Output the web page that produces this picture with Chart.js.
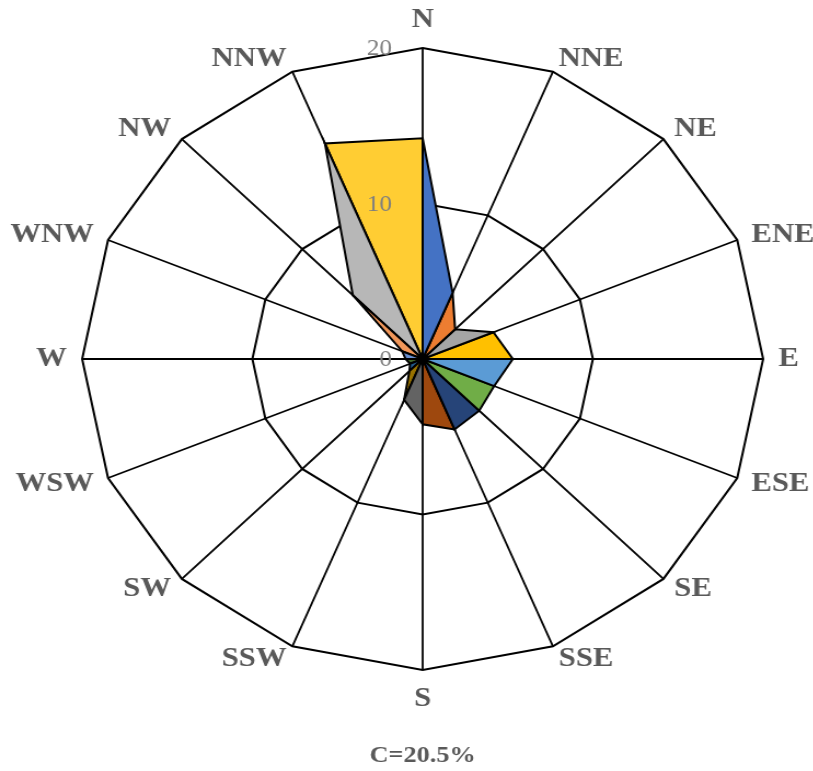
<!DOCTYPE html>
<html>
<head>
<meta charset="utf-8">
<script src="https://cdn.jsdelivr.net/npm/chart.js@4"></script>
<style>
  html, body { margin: 0; padding: 0; background: #fff; overflow: hidden; }
  /* the original picture is stretched sideways, so stretch the canvas too */
  #wrap { width: 773px; height: 771px; transform: scaleX(1.0949); transform-origin: 0 0; }
</style>
</head>
<body>
<div id="wrap"><canvas id="rose"></canvas></div>
<script>
var directions = ['N', 'NNE', 'NE', 'ENE', 'E', 'ESE', 'SE', 'SSE', 'S', 'SSW', 'SW', 'WSW', 'W', 'WNW', 'NW', 'NNW'];
var freq = [14.2, 4.6, 2.7, 4.5, 5.3, 4.55, 4.7, 4.9, 4.2, 2.85, 1.1, 0.8, 1.0, 1.3, 5.8, 15.0];
var sliceColors = ['#4472C4', '#ED7D31', '#A5A5A5', '#FFC000', '#5B9BD5', '#70AD47', '#264478', '#9E480E',
                   '#636363', '#997300', '#255E91', '#43682B', '#698ED0', '#F1975A', '#B7B7B7', '#FFCD33'];
var tickLabels = [0, 10, 20];
var calmText = 'C=20.5%';

// one triangle per sector: value at direction i and at the next one
var datasets = directions.map(function (d, i) {
  var j = (i + 1) % directions.length;
  var data = directions.map(function () { return 0; });
  data[i] = freq[i];
  data[j] = freq[j];
  return {
    label: d,
    data: data,
    backgroundColor: sliceColors[i],
    borderColor: '#000',
    borderWidth: 2,
    fill: 'origin',
    pointRadius: 0
  };
});

// tick numbers sit left of the N spoke, direction names are placed the excel way
// (side labels centred on the point, not hung below/above it)
var roseText = {
  id: 'roseText',
  afterDatasetsDraw: function (chart) {
    var r = chart.scales.r;
    var ctx = chart.ctx;
    ctx.save();
    ctx.font = '23px "Liberation Serif"';
    ctx.fillStyle = '#7f7f7f';
    ctx.textAlign = 'right';
    ctx.textBaseline = 'middle';
    tickLabels.forEach(function (t) {
      var y = r.yCenter - r.getDistanceFromCenterForValue(t);
      ctx.fillText(String(t), r.xCenter - 28, y + 1);
    });

    ctx.font = 'bold 28px "Liberation Serif"';
    ctx.fillStyle = '#595959';
    directions.forEach(function (d, i) {
      var p = r.getPointPosition(i, r.drawingArea + 14);
      var deg = i * 360 / directions.length;
      var y = p.y;
      if (deg === 0) {
        ctx.textAlign = 'center';
        y -= 14;
      } else if (deg === 180) {
        ctx.textAlign = 'center';
        y += 15;
      } else if (deg < 180) {
        ctx.textAlign = 'left';
      } else {
        ctx.textAlign = 'right';
      }
      ctx.fillText(d, p.x, y);
    });
    ctx.restore();
  }
};

var myChart = new Chart(document.getElementById('rose'), {
  type: 'radar',
  data: {
    labels: directions,
    datasets: datasets
  },
  options: {
    maintainAspectRatio: false,
    animation: false,
    layout: {
      padding: { top: 48, right: 1, bottom: 0, left: 0 }
    },
    elements: {
      line: { tension: 0 }
    },
    scales: {
      r: {
        min: 0,
        max: 20,
        ticks: { stepSize: 10, display: false },
        grid: { color: '#000', lineWidth: 2 },
        angleLines: { color: '#000', lineWidth: 1.8 },
        pointLabels: { display: false }
      }
    },
    plugins: {
      legend: { display: false },
      tooltip: { enabled: false },
      title: {
        display: true,
        position: 'bottom',
        text: calmText,
        color: '#595959',
        font: { family: 'Liberation Serif', size: 24, weight: 'bold', lineHeight: 1 },
        padding: { top: 74, bottom: 3 }
      }
    }
  },
  plugins: [roseText]
});
</script>
</body>
</html>
